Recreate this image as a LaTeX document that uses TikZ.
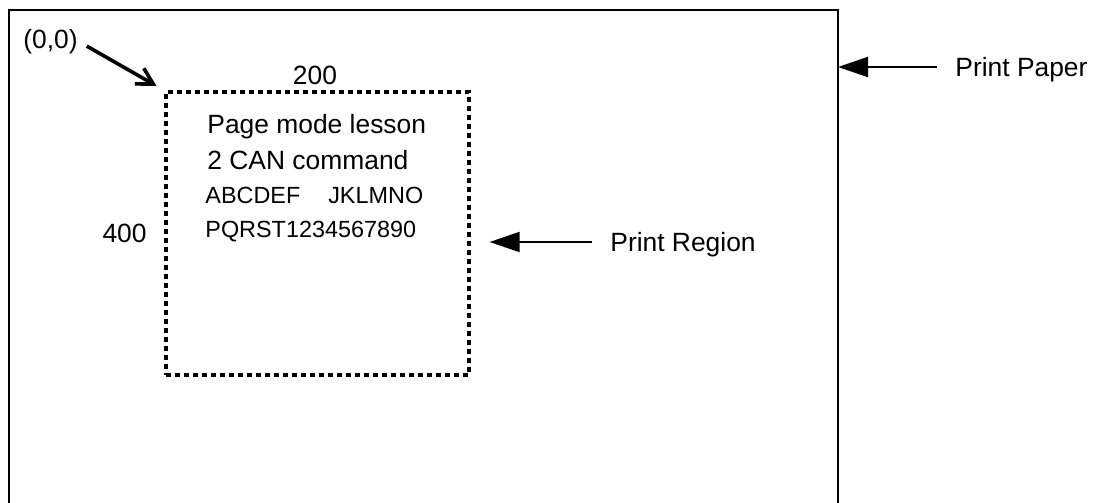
\documentclass[tikz,border=0pt]{standalone}
\usepackage{fontspec}
\setmainfont{Liberation Sans}
\usetikzlibrary{arrows.meta, positioning}

\begin{document}
\begin{tikzpicture}[
    x=0.5pt, y=-0.5pt,
    txt/.style={inner sep=0pt, font=\fontsize{13.2}{16}\selectfont},
    smalltxt/.style={inner sep=0pt, font=\fontsize{11.7}{14}\selectfont},
    regionbox/.style={
        draw,
        line width=1.6pt,
        dash pattern=on 2.6pt off 1.9pt,
        minimum width=151.5pt,
        minimum height=141.5pt
    },
    pointer/.style={-{Triangle[length=15pt, width=10pt]}, line width=1pt},
    origarrow/.style={-{Straight Barb[length=8pt, width=9pt, line width=1.8pt]}, line width=1.8pt}
]
\useasboundingbox (0,0) rectangle (1098,503);

% print paper (open at the bottom)
\coordinate (pbl) at (9,503);
\coordinate (ptl) at (9,10);
\coordinate (ptr) at (838,10);
\coordinate (pbr) at (838,503);
\draw[line width=1.2pt] (pbl) -- (ptl) -- (ptr) -- (pbr);

% print region
\node[regionbox] (region) at (317.5,233.5) {};

\node[txt, anchor=base west] (l1) at (207,133) {Page mode lesson};
\node[txt, anchor=base west] (l2) at (207,169) {2 CAN command};
\node[smalltxt, anchor=base west] (l3) at (205,203) {ABCDEF\hspace{14pt}JKLMNO};
\node[smalltxt, anchor=base west] (l4) at (205,237) {PQRST1234567890};

\node[txt, anchor=base] (wlbl) at (315,84) {200};
\node[txt, anchor=base east] (hlbl) at (147,242) {400};
\node[txt, anchor=base west] (origin) at (23,48) {(0,0)};

\node[txt, anchor=base west] (paperlbl) at (955,76.5) {Print Paper};
\node[txt, anchor=base west] (regionlbl) at (610,251.5) {Print Region};

\coordinate (pp) at ([yshift=4.75pt]paperlbl.base west);
\coordinate (rp) at ([yshift=4.75pt]regionlbl.base west);

\draw[origarrow, shorten <=5pt, shorten >=4.6pt] (origin.east) -- (region.north west);
\draw[pointer, shorten <=9pt] (pp) -- (pp -| ptr);
\draw[pointer, shorten <=9pt, shorten >=9.5pt] (rp) -- (rp -| region.east);

\end{tikzpicture}
\end{document}
